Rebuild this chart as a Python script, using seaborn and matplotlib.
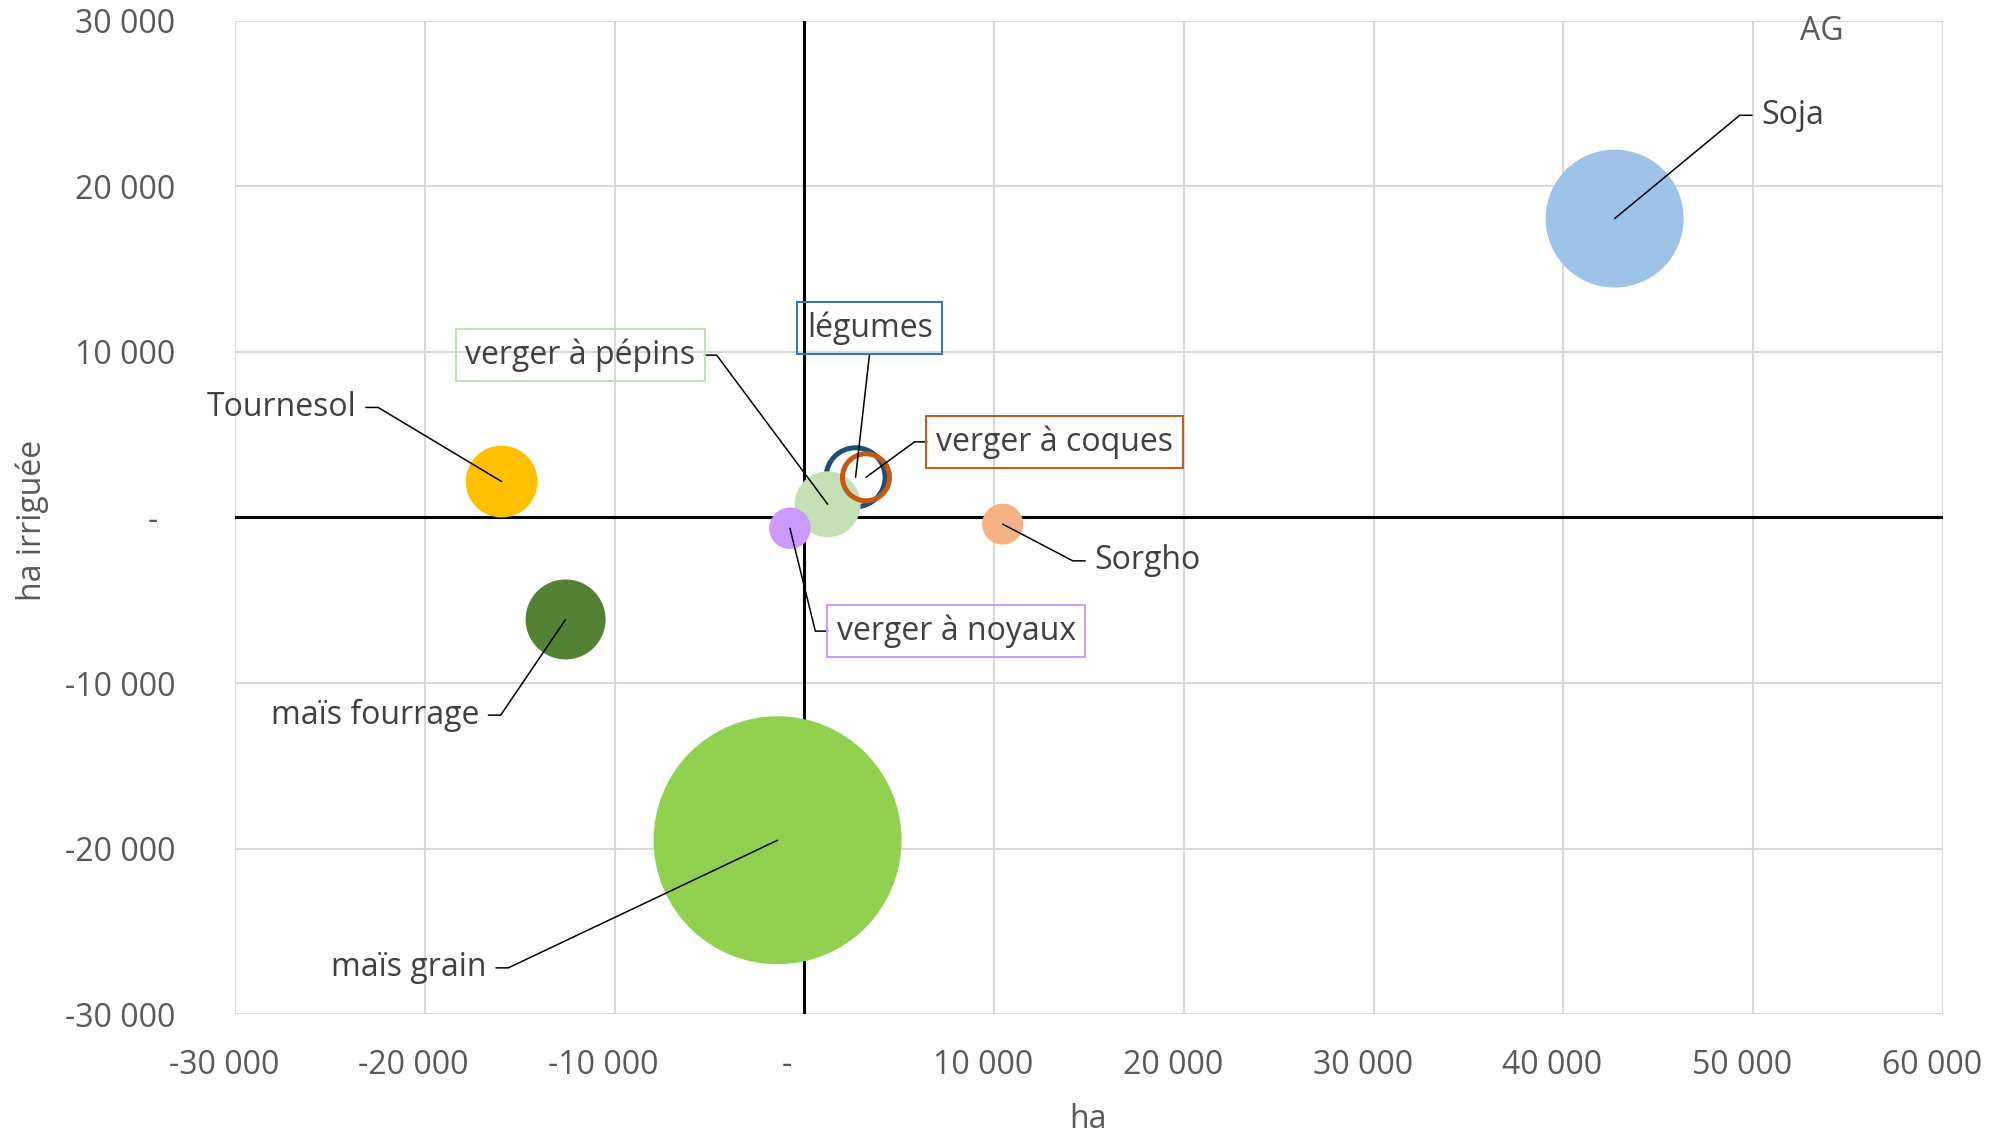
import pandas as pd
import matplotlib
matplotlib.use("Agg")
import matplotlib.pyplot as plt
import seaborn as sns
from matplotlib.ticker import FuncFormatter

# data: variation de surface (ha), variation de surface irriguée (ha), taille de bulle
cultures = ["maïs grain", "Soja", "Tournesol", "maïs fourrage", "Sorgho",
            "légumes", "verger à pépins", "verger à coques", "verger à noyaux"]
ha = [-1410, 42700, -15950, -12580, 10450, 2700, 1230, 3250, -760]
ha_irriguee = [-19500, 18060, 2170, -6160, -400, 2430, 800, 2430, -650]
taille = [150000, 46400, 12600, 15600, 4100, 8500, 10600, 5400, 4200]
couleurs = ["#92D050", "#9DC3E6", "#FFC000", "#548235", "#F4B183",
            "#1F4E79", "#C5E0B4", "#C55A11", "#CC99FF"]
anneaux = ["légumes", "verger à coques"]

x_ticks = list(range(-30000, 60001, 10000))
y_ticks = list(range(-30000, 30001, 10000))

df = pd.DataFrame({"culture": cultures, "ha": ha, "ha_irriguee": ha_irriguee, "taille": taille})
palette = dict(zip(cultures, couleurs))

# label placement: elbow point of the leader line, side of the text, box colour
etiquettes = {
    "Soja": (49290, 24300, "right", None),
    "Tournesol": (-22460, 6650, "left", None),
    "maïs fourrage": (-16000, -11940, "left", None),
    "maïs grain": (-15600, -27210, "left", None),
    "Sorgho": (14150, -2620, "right", None),
    "verger à pépins": (-4620, 9810, "left", "#C5E0B4"),
    "verger à coques": (5810, 4570, "right", "#C55A11"),
    "verger à noyaux": (580, -6865, "right", "#CC99FF"),
}

sns.set_style("white")
plt.rcParams["font.family"] = ["Open Sans", "DejaVu Sans"]
FS = 23

fig = plt.figure(figsize=(20.02, 11.33), dpi=100)
ax = fig.add_axes([0.1174, 0.105, 0.8531, 0.8765])

ax.set_xlim(-30000, 60000)
ax.set_ylim(-30000, 30000)
ax.set_xticks(x_ticks)
ax.set_yticks(y_ticks)
ax.grid(True, color="#D9D9D9", lw=1.5, zorder=0)
ax.set_axisbelow(True)
for s in ax.spines.values():
    s.set_visible(False)

ax.axhline(0, color="black", lw=2.2, zorder=1)
ax.axvline(0, color="black", lw=2.2, zorder=1)

smax = (2 * 124 * 0.72) ** 2
sns.scatterplot(data=df, x="ha", y="ha_irriguee", hue="culture", palette=palette,
                size="taille", sizes=(0, smax), size_norm=(0, 150000),
                linewidth=0, legend=False, ax=ax, zorder=2)

# légumes and verger à coques are drawn as hollow rings
coll = ax.collections[0]
coll.set_alpha(None)
fcs = coll.get_facecolors().copy()
ecs = []
lws = []
for i, c in enumerate(cultures):
    if c in anneaux:
        ecs.append(couleurs[i])
        fcs[i, 3] = 0
        lws.append(3.6)
    else:
        ecs.append((0, 0, 0, 0))
        lws.append(0)
coll.set_facecolors(fcs)
coll.set_edgecolors(ecs)
coll.set_linewidths(lws)

seg = 650
gap = 480
for c, (ex, ey, side, box) in etiquettes.items():
    i = cultures.index(c)
    cx, cy = ha[i], ha_irriguee[i]
    d = 1 if side == "right" else -1
    ax.plot([cx, ex, ex + d * seg], [cy, ey, ey], color="black", lw=1.1, zorder=4)
    kw = {}
    if box:
        kw["bbox"] = dict(boxstyle="square,pad=0.3", fc="none", ec=box, lw=1.4)
    ax.text(ex + d * (seg + gap), ey, c, ha="left" if d > 0 else "right", va="center",
            fontsize=FS, color="#404040", zorder=5, **kw)

# légumes label sits above its bubble
i = cultures.index("légumes")
ax.plot([ha[i], 3430], [ha_irriguee[i], 9810], color="black", lw=1.1, zorder=4)
ax.text(3450, 11440, "légumes", ha="center", va="center", fontsize=FS, color="#404040",
        zorder=5, bbox=dict(boxstyle="square,pad=0.3", fc="none", ec="#2E75B6", lw=1.4))

ax.text(0.929, 0.989, "AG", transform=ax.transAxes, ha="center", va="center",
        fontsize=FS, color="#595959")


# accounting-style format: trailing padding, zero shown as a dash
def fmt_x(v, pos):
    if v == 0:
        return "-    "
    return f"{v:,.0f}".replace(",", " ") + "  \u2009"


def fmt_y(v, pos):
    if v == 0:
        return "-  "
    return f"{v:,.0f}".replace(",", " ")


ax.xaxis.set_major_formatter(FuncFormatter(fmt_x))
ax.yaxis.set_major_formatter(FuncFormatter(fmt_y))
ax.tick_params(axis="both", length=0, labelsize=FS, labelcolor="#595959")
ax.tick_params(axis="x", pad=25)
ax.tick_params(axis="y", pad=43)
ax.set_xlabel("")
ax.set_ylabel("")

fig.text(0.5435, 0.012, "ha", ha="center", va="center", fontsize=FS, color="#595959")
fig.text(0.016, 0.541, "ha irriguée", ha="center", va="center", rotation=90,
         fontsize=FS, color="#595959")

fig.savefig("out.png", dpi=100)
